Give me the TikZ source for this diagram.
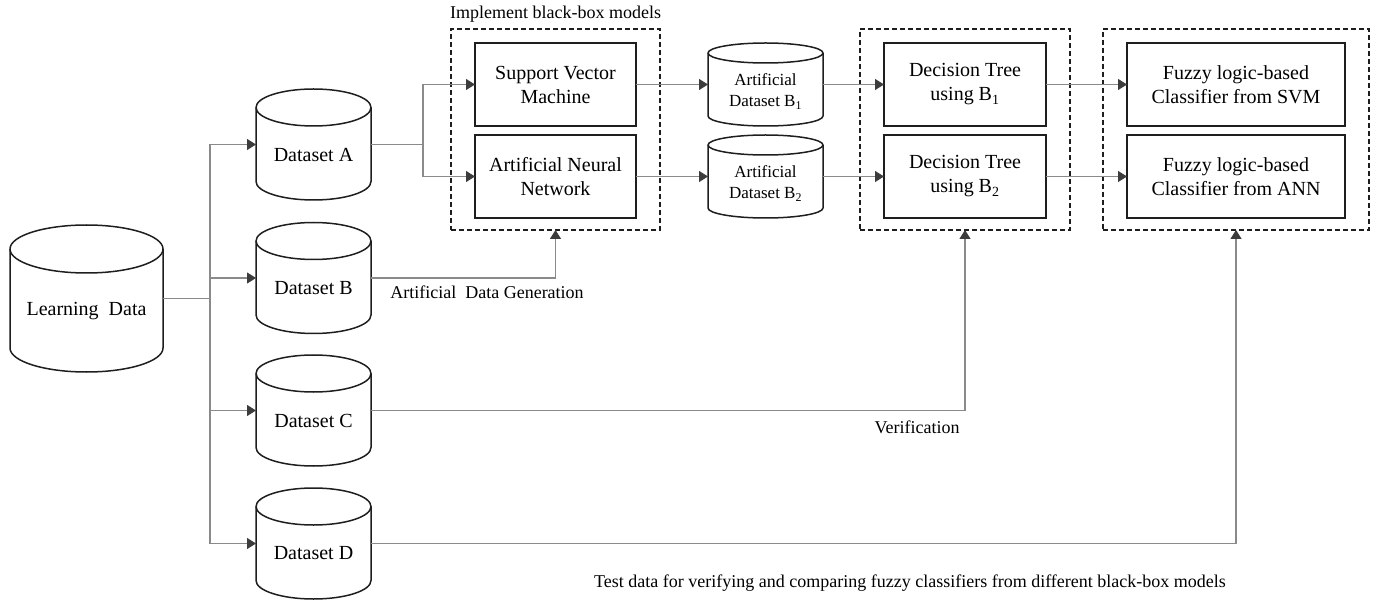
\documentclass[tikz,border=0pt]{standalone}
\usepackage{fontspec}
\setmainfont{Liberation Serif}
\usetikzlibrary{arrows.meta}
\definecolor{connc}{HTML}{8A8A8A}
\definecolor{tipc}{HTML}{3C3C3C}
\definecolor{edgec}{HTML}{1E1E1E}
\newcommand\cylshape[3]{% node name, x radius, y radius
  \draw[edgeline] ([yshift=-#3]#1.north west) -- ([yshift=#3]#1.south west)
     arc[start angle=180,end angle=360,x radius=#2,y radius=#3]
     -- ([yshift=-#3]#1.north east)
     arc[start angle=0,end angle=180,x radius=#2,y radius=#3] -- cycle;
  \draw[edgeline] ([yshift=-#3]#1.north west)
     arc[start angle=180,end angle=360,x radius=#2,y radius=#3];
}
\tikzset{
  edgeline/.style={draw=edgec, line width=1.5pt},
  holder/.style={rectangle, inner sep=0pt, outer sep=0pt},
  procbox/.style={holder, draw=edgec, line width=1.5pt, minimum height=83pt,
     align=center, font=\fontsize{20}{24}\selectfont},
  groupbox/.style={holder, draw=edgec, line width=1.4pt, dash pattern=on 5pt off 3pt,
     minimum height=201pt},
  bigtxt/.style={align=center, font=\fontsize{20}{24}\selectfont, inner sep=0pt},
  smalltxt/.style={align=center, font=\fontsize{17}{21}\selectfont, inner sep=0pt},
  labtxt/.style={font=\fontsize{18}{21}\selectfont, inner sep=0pt},
  conn/.style={draw=connc, line width=1.2pt},
  arr/.style={conn, -{Triangle[length=9pt,width=11pt,color=tipc]}},
}
\begin{document}
\begin{tikzpicture}[x=1pt,y=1pt]
\useasboundingbox (0,0) rectangle (1378,-601);
% cylinders
\node[holder, minimum width=153pt, minimum height=147pt] (LD) at (86.5,-298.5) {};
\node[holder, minimum width=115pt, minimum height=111pt] (A) at (313.5,-144.5) {};
\node[holder, minimum width=115pt, minimum height=111pt] (B) at (313.5,-278) {};
\node[holder, minimum width=115pt, minimum height=111pt] (C) at (313.5,-410.5) {};
\node[holder, minimum width=115pt, minimum height=111pt] (D) at (313.5,-543.5) {};
\node[holder, minimum width=115pt, minimum height=83pt] (AB1) at (765.5,-84.5) {};
\node[holder, minimum width=115pt, minimum height=83pt] (AB2) at (765.5,-176.5) {};
\cylshape{LD}{76.5pt}{24pt}
\cylshape{A}{57.5pt}{18.5pt}
\cylshape{B}{57.5pt}{18.5pt}
\cylshape{C}{57.5pt}{18.5pt}
\cylshape{D}{57.5pt}{18.5pt}
\cylshape{AB1}{57.5pt}{10pt}
\cylshape{AB2}{57.5pt}{10pt}
\node[bigtxt] (LDt) at ([yshift=-13pt]LD.center) {Learning\ \ Data};
\node[bigtxt] (At) at ([yshift=-10pt]A.center) {Dataset A};
\node[bigtxt] (Bt) at ([yshift=-10pt]B.center) {Dataset B};
\node[bigtxt] (Ct) at ([yshift=-10pt]C.center) {Dataset C};
\node[bigtxt] (Dt) at ([yshift=-10pt]D.center) {Dataset D};
\node[smalltxt] (AB1t) at ([yshift=-7pt]AB1.center) {Artificial\\Dataset B\textsubscript{1}};
\node[smalltxt] (AB2t) at ([yshift=-7pt]AB2.center) {Artificial\\Dataset B\textsubscript{2}};
% group boxes
\node[groupbox, minimum width=209pt] (G1) at (555.5,-129.5) {};
\node[groupbox, minimum width=210pt] (G2) at (965,-129.5) {};
\node[groupbox, minimum width=266pt] (G3) at (1236,-129.5) {};
\node[labtxt, anchor=south] (G1t) at ([yshift=6pt]G1.north) {Implement black-box models};
% process boxes
\node[procbox, minimum width=161pt] (SVM) at (555.5,-84.5) {Support Vector\\Machine};
\node[procbox, minimum width=161pt] (ANN) at (555.5,-176.5) {Artificial Neural\\Network};
\node[procbox, minimum width=162pt] (DT1) at (965,-84.5) {Decision Tree\\using B\textsubscript{1}};
\node[procbox, minimum width=162pt] (DT2) at (965,-176.5) {Decision Tree\\using B\textsubscript{2}};
\node[procbox, minimum width=218pt] (FL1) at (1236,-84.5) {Fuzzy logic-based\\Classifier from SVM};
\node[procbox, minimum width=218pt] (FL2) at (1236,-176.5) {Fuzzy logic-based\\Classifier from ANN};
% connectors
\coordinate (trunk) at (210,-298.5);
\draw[conn] (LD.east) -- (trunk);
\draw[arr] (trunk) |- (A.west);
\draw[arr] (trunk) |- (B.west);
\draw[arr] (trunk) |- (C.west);
\draw[arr] (trunk) |- (D.west);
\coordinate (split) at (423,-144.5);
\draw[conn] (A.east) -- (split);
\draw[arr] (split) |- (SVM.west);
\draw[arr] (split) |- (ANN.west);
\draw[arr] (SVM.east) -- (AB1.west);
\draw[arr] (ANN.east) -- (AB2.west);
\draw[arr] (AB1.east) -- (DT1.west);
\draw[arr] (AB2.east) -- (DT2.west);
\draw[arr] (DT1.east) -- (FL1.west);
\draw[arr] (DT2.east) -- (FL2.west);
\draw[arr] (B.east) -| (G1.south);
\draw[arr] (C.east) -| (G2.south);
\draw[arr] (D.east) -| (G3.south);
% labels
\node[labtxt] (gen) at (487,-292) {Artificial\ \ Data Generation};
\node[labtxt] (ver) at (917,-427) {Verification};
\node[labtxt] (test) at (910,-583) {Test data for verifying and comparing fuzzy classifiers from different black-box models};
\end{tikzpicture}
\end{document}
